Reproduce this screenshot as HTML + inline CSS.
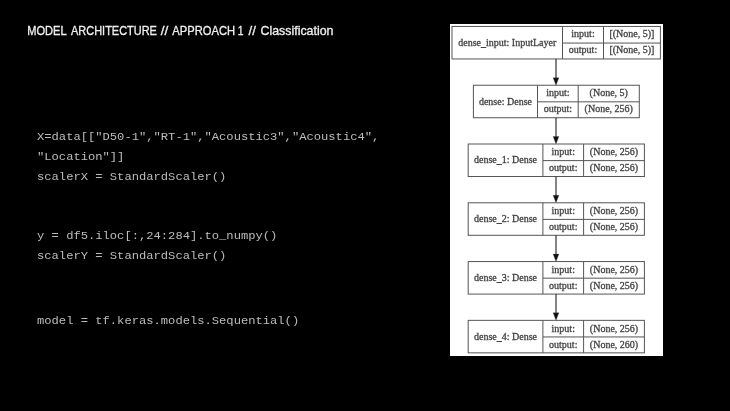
<!DOCTYPE html>
<html><head><meta charset="utf-8"><style>
html,body{margin:0;padding:0;background:#000;width:730px;height:411px;overflow:hidden}
svg{position:absolute;left:0;top:0;filter:blur(0.35px)}
</style></head><body>
<svg width="730" height="411" viewBox="0 0 730 411">
<rect x="0" y="0" width="730" height="411" fill="#000"/>
<g font-family="Liberation Sans, sans-serif" font-size="12" fill="#efefef" stroke="#efefef" stroke-width="0.3"><text transform="translate(27.23 35.35) scale(0.9238 1)" x="0" y="0">MODEL</text><text transform="translate(71.05 35.35) scale(0.9138 1)" x="0" y="0">ARCHITECTURE</text><text transform="translate(160.85 35.35) scale(1.1286 1)" x="0" y="0">//</text><text transform="translate(172.35 35.35) scale(0.9328 1)" x="0" y="0">APPROACH</text><text transform="translate(237.68 35.35) scale(0.8667 1)" x="0" y="0">1</text><text transform="translate(248.55 35.35) scale(1.1000 1)" x="0" y="0">//</text><text transform="translate(260.45 35.35) scale(1.0343 1)" x="0" y="0">Classification</text></g>
<g font-family="Liberation Mono, monospace" font-size="12.16" fill="#bdbdbd" xml:space="preserve">
<text transform="translate(37 140.0) scale(1 0.87)" x="0" y="0">X=data[[&quot;D50-1&quot;,&quot;RT-1&quot;,&quot;Acoustic3&quot;,&quot;Acoustic4&quot;,</text>
<text transform="translate(37 160.0) scale(1 0.87)" x="0" y="0">&quot;Location&quot;]]</text>
<text transform="translate(37 180.0) scale(1 0.87)" x="0" y="0">scalerX = StandardScaler()</text>
<text transform="translate(37 239.4) scale(1 0.87)" x="0" y="0">y = df5.iloc[:,24:284].to_numpy()</text>
<text transform="translate(37 259.1) scale(1 0.87)" x="0" y="0">scalerY = StandardScaler()</text>
<text transform="translate(37 324.3) scale(1 0.87)" x="0" y="0">model = tf.keras.models.Sequential()</text>
</g>
<rect x="450" y="24" width="213" height="332" fill="#fff"/>
<g font-family="Liberation Serif, serif" font-size="10" fill="#454545" stroke="#454545" stroke-width="0.32">
<rect x="452.0" y="26.45" width="208.40" height="32.5" fill="none" stroke="#555555" stroke-width="1"/>
<line x1="562.5" y1="26.45" x2="562.5" y2="58.95" stroke="#555555" stroke-width="1"/>
<line x1="603.5" y1="26.45" x2="603.5" y2="58.95" stroke="#555555" stroke-width="1"/>
<line x1="562.5" y1="43.05" x2="660.4" y2="43.05" stroke="#555555" stroke-width="1"/>
<text x="507.25" y="45.65" text-anchor="middle">dense_input: InputLayer</text>
<text x="583.00" y="37.18" text-anchor="middle">input:</text>
<text x="583.00" y="53.43" text-anchor="middle">output:</text>
<text x="631.95" y="37.18" text-anchor="middle">[(None, 5)]</text>
<text x="631.95" y="53.43" text-anchor="middle">[(None, 5)]</text>
<line x1="556" y1="58.95" x2="556" y2="78.23" stroke="#2a2a2a" stroke-width="1.15"/>
<polygon points="553.1,77.73 558.9,77.73 556,85.23" fill="#111"/>
<rect x="473.4" y="85.23" width="165.90" height="32.5" fill="none" stroke="#555555" stroke-width="1"/>
<line x1="537.5" y1="85.23" x2="537.5" y2="117.73" stroke="#555555" stroke-width="1"/>
<line x1="578.2" y1="85.23" x2="578.2" y2="117.73" stroke="#555555" stroke-width="1"/>
<line x1="537.5" y1="101.83" x2="639.3" y2="101.83" stroke="#555555" stroke-width="1"/>
<text x="505.45" y="104.56" text-anchor="middle">dense: Dense</text>
<text x="557.85" y="96.09" text-anchor="middle">input:</text>
<text x="557.85" y="112.34" text-anchor="middle">output:</text>
<text x="608.75" y="96.09" text-anchor="middle">(None, 5)</text>
<text x="608.75" y="112.34" text-anchor="middle">(None, 256)</text>
<line x1="556" y1="117.73" x2="556" y2="137.01" stroke="#2a2a2a" stroke-width="1.15"/>
<polygon points="553.1,136.51 558.9,136.51 556,144.01" fill="#111"/>
<rect x="468.2" y="144.01" width="176.20" height="32.5" fill="none" stroke="#555555" stroke-width="1"/>
<line x1="542.9" y1="144.01" x2="542.9" y2="176.51" stroke="#555555" stroke-width="1"/>
<line x1="583.6" y1="144.01" x2="583.6" y2="176.51" stroke="#555555" stroke-width="1"/>
<line x1="542.9" y1="160.61" x2="644.4" y2="160.61" stroke="#555555" stroke-width="1"/>
<text x="505.55" y="163.47" text-anchor="middle">dense_1: Dense</text>
<text x="563.25" y="155.00" text-anchor="middle">input:</text>
<text x="563.25" y="171.25" text-anchor="middle">output:</text>
<text x="614.00" y="155.00" text-anchor="middle">(None, 256)</text>
<text x="614.00" y="171.25" text-anchor="middle">(None, 256)</text>
<line x1="556" y1="176.51" x2="556" y2="195.79" stroke="#2a2a2a" stroke-width="1.15"/>
<polygon points="553.1,195.29 558.9,195.29 556,202.79" fill="#111"/>
<rect x="468.2" y="202.79" width="176.20" height="32.5" fill="none" stroke="#555555" stroke-width="1"/>
<line x1="542.9" y1="202.79" x2="542.9" y2="235.29" stroke="#555555" stroke-width="1"/>
<line x1="583.6" y1="202.79" x2="583.6" y2="235.29" stroke="#555555" stroke-width="1"/>
<line x1="542.9" y1="219.39" x2="644.4" y2="219.39" stroke="#555555" stroke-width="1"/>
<text x="505.55" y="222.38" text-anchor="middle">dense_2: Dense</text>
<text x="563.25" y="213.91" text-anchor="middle">input:</text>
<text x="563.25" y="230.16" text-anchor="middle">output:</text>
<text x="614.00" y="213.91" text-anchor="middle">(None, 256)</text>
<text x="614.00" y="230.16" text-anchor="middle">(None, 256)</text>
<line x1="556" y1="235.29" x2="556" y2="254.57" stroke="#2a2a2a" stroke-width="1.15"/>
<polygon points="553.1,254.07 558.9,254.07 556,261.57" fill="#111"/>
<rect x="468.2" y="261.57" width="176.20" height="32.5" fill="none" stroke="#555555" stroke-width="1"/>
<line x1="542.9" y1="261.57" x2="542.9" y2="294.07" stroke="#555555" stroke-width="1"/>
<line x1="583.6" y1="261.57" x2="583.6" y2="294.07" stroke="#555555" stroke-width="1"/>
<line x1="542.9" y1="278.17" x2="644.4" y2="278.17" stroke="#555555" stroke-width="1"/>
<text x="505.55" y="281.29" text-anchor="middle">dense_3: Dense</text>
<text x="563.25" y="272.81" text-anchor="middle">input:</text>
<text x="563.25" y="289.06" text-anchor="middle">output:</text>
<text x="614.00" y="272.81" text-anchor="middle">(None, 256)</text>
<text x="614.00" y="289.06" text-anchor="middle">(None, 256)</text>
<line x1="556" y1="294.07" x2="556" y2="313.35" stroke="#2a2a2a" stroke-width="1.15"/>
<polygon points="553.1,312.85 558.9,312.85 556,320.35" fill="#111"/>
<rect x="468.2" y="320.34999999999997" width="176.20" height="32.5" fill="none" stroke="#555555" stroke-width="1"/>
<line x1="542.9" y1="320.34999999999997" x2="542.9" y2="352.85" stroke="#555555" stroke-width="1"/>
<line x1="583.6" y1="320.34999999999997" x2="583.6" y2="352.85" stroke="#555555" stroke-width="1"/>
<line x1="542.9" y1="336.95" x2="644.4" y2="336.95" stroke="#555555" stroke-width="1"/>
<text x="505.55" y="340.20" text-anchor="middle">dense_4: Dense</text>
<text x="563.25" y="331.72" text-anchor="middle">input:</text>
<text x="563.25" y="347.97" text-anchor="middle">output:</text>
<text x="614.00" y="331.72" text-anchor="middle">(None, 256)</text>
<text x="614.00" y="347.97" text-anchor="middle">(None, 260)</text>
</g>
</svg>
</body></html>
